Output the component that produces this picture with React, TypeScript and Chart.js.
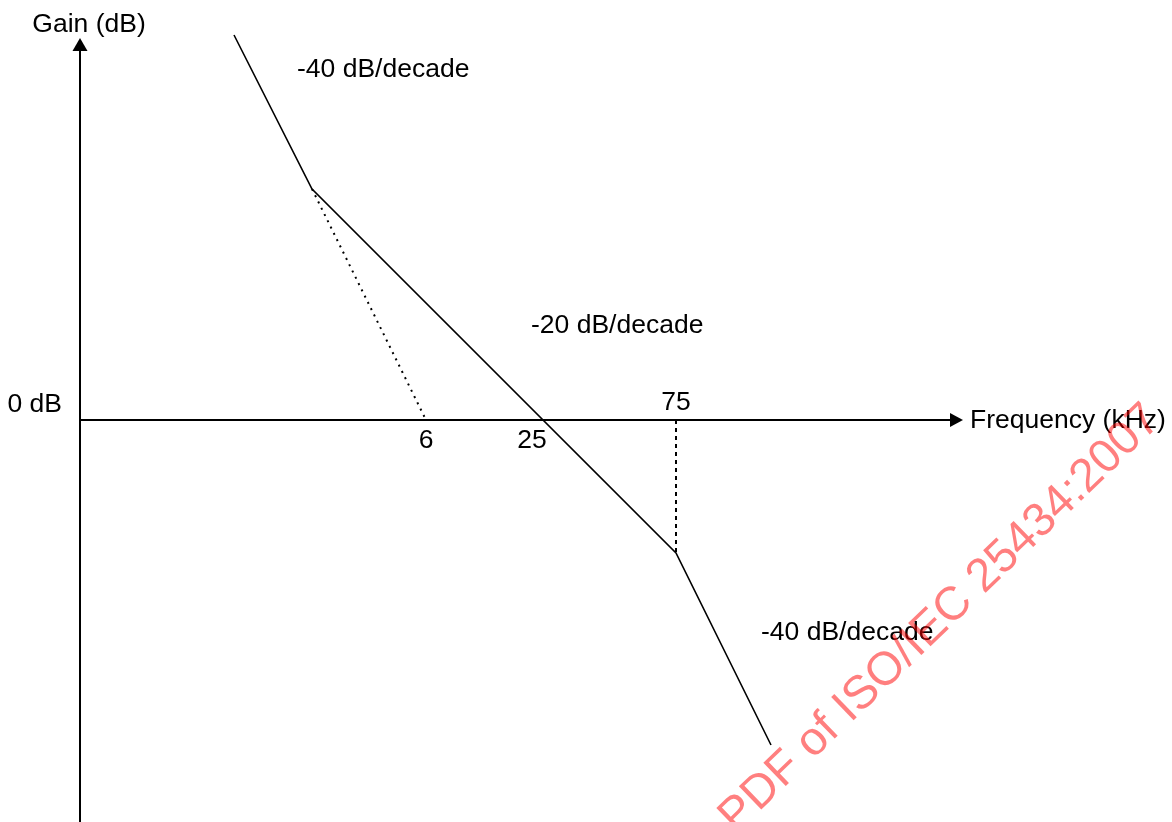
import React, { useEffect, useRef } from "react";
import { Chart, registerables } from "chart.js";

Chart.register(...registerables);

// Schematic Bode magnitude plot (asymptotic), schematic units: x = position along frequency axis, y = gain
const bodeX = [15.4, 23.2, 59.6, 69.1];
const bodeGain = [38.5, 23.1, -13.3, -32.5];

// Dotted extension of the first -40 dB/decade asymptote down to 0 dB
const asymX = [23.2, 34.6];
const asymGain = [23.1, 0];

// Dotted drop line at the 75 kHz break
const dropX = [59.6, 59.6];
const dropGain = [0, -13.3];

// Frequency tick labels (kHz) and their positions on the schematic axis
const freqTickLabels = ["6", "25", "75"];
const freqTickPos = [34.6, 45.4, 59.6];
const freqTickAbove = [false, false, true];

// Slope annotations
const slopeLabels = ["-40 dB/decade", "-20 dB/decade", "-40 dB/decade"];
const slopeLabelX = [21.7, 45.1, 68.1];
const slopeLabelY = [34.3, 8.7, -22.0];

const FONT = '"Liberation Sans", Arial, sans-serif';

const toPts = (xs: number[], ys: number[]) => xs.map((x, i) => ({ x, y: ys[i] }));

export default function App() {
  const ref = useRef<HTMLCanvasElement | null>(null);

  useEffect(() => {
    document.body.style.margin = "0";
    const canvas = ref.current;
    if (!canvas) return;

    const overlay = {
      id: "bodeOverlay",
      afterDatasetsDraw(chart: any) {
        const { ctx, scales } = chart;
        const xs = scales.x;
        const ys = scales.y;
        const ox = xs.getPixelForValue(0);
        const oy = ys.getPixelForValue(0);
        const xEnd = xs.getPixelForValue(xs.max);
        const yTop = ys.getPixelForValue(38.2);
        const yBottom = ys.getPixelForValue(ys.min);
        ctx.save();
        ctx.strokeStyle = "#000";
        ctx.fillStyle = "#000";
        ctx.lineWidth = 2;
        // y axis
        ctx.beginPath();
        ctx.moveTo(ox, yBottom);
        ctx.lineTo(ox, yTop + 12);
        ctx.stroke();
        ctx.beginPath();
        ctx.moveTo(ox, yTop);
        ctx.lineTo(ox - 7.5, yTop + 13);
        ctx.lineTo(ox + 7.5, yTop + 13);
        ctx.closePath();
        ctx.fill();
        // x axis
        ctx.beginPath();
        ctx.moveTo(ox, oy);
        ctx.lineTo(xEnd - 12, oy);
        ctx.stroke();
        ctx.beginPath();
        ctx.moveTo(xEnd, oy);
        ctx.lineTo(xEnd - 13, oy - 7);
        ctx.lineTo(xEnd - 13, oy + 7);
        ctx.closePath();
        ctx.fill();

        ctx.font = `26.5px ${FONT}`;
        ctx.textBaseline = "alphabetic";
        // axis titles
        ctx.textAlign = "center";
        ctx.fillText("Gain (dB)", ox + 9, yTop - 6);
        ctx.textAlign = "left";
        ctx.fillText("Frequency (kHz)", xEnd + 7, oy + 8);
        ctx.textAlign = "right";
        ctx.fillText("0 dB", ox - 18, oy - 8);
        // frequency ticks
        ctx.textAlign = "center";
        freqTickLabels.forEach((lab, i) => {
          const px = xs.getPixelForValue(freqTickPos[i]);
          const py = freqTickAbove[i] ? oy - 10 : oy + 28;
          ctx.fillText(lab, px + (i === 1 ? -2 : 0), py);
        });
        // slope labels
        ctx.textAlign = "left";
        slopeLabels.forEach((lab, i) => {
          ctx.fillText(lab, xs.getPixelForValue(slopeLabelX[i]), ys.getPixelForValue(slopeLabelY[i]));
        });

        // watermark
        ctx.save();
        ctx.translate(736, 834);
        ctx.rotate((-44 * Math.PI) / 180);
        ctx.font = `47px ${FONT}`;
        ctx.fillStyle = "rgba(255,0,0,0.5)";
        ctx.textAlign = "left";
        ctx.textBaseline = "alphabetic";
        ctx.fillText("PDF of ISO/IEC 25434:2007", 0, 0);
        ctx.restore();
        ctx.restore();
      },
    };

    const chart = new Chart(canvas, {
      type: "line",
      data: {
        datasets: [
          {
            data: toPts(bodeX, bodeGain),
            borderColor: "#000",
            borderWidth: 1.6,
            pointRadius: 0,
            tension: 0,
            fill: false,
            clip: false as any,
          },
          {
            data: toPts(asymX, asymGain),
            borderColor: "#000",
            borderWidth: 2,
            borderDash: [2, 5],
            pointRadius: 0,
            fill: false,
          },
          {
            data: toPts(dropX, dropGain),
            borderColor: "#000",
            borderWidth: 2,
            borderDash: [4, 4],
            pointRadius: 0,
            fill: false,
          },
        ],
      },
      options: {
        animation: false,
        responsive: true,
        maintainAspectRatio: false,
        layout: { padding: { left: 80, right: 209, top: 30, bottom: 0 } },
        plugins: { legend: { display: false }, tooltip: { enabled: false }, title: { display: false } },
        events: [],
        scales: {
          x: { type: "linear", min: 0, max: 88.3, display: false },
          y: { type: "linear", min: -40.2, max: 39, display: false },
        },
      },
      plugins: [overlay],
    });
    return () => chart.destroy();
  }, []);

  return (
    <div style={{ width: 1172, height: 822, position: "relative", background: "#fff" }}>
      <canvas ref={ref} />
    </div>
  );
}
